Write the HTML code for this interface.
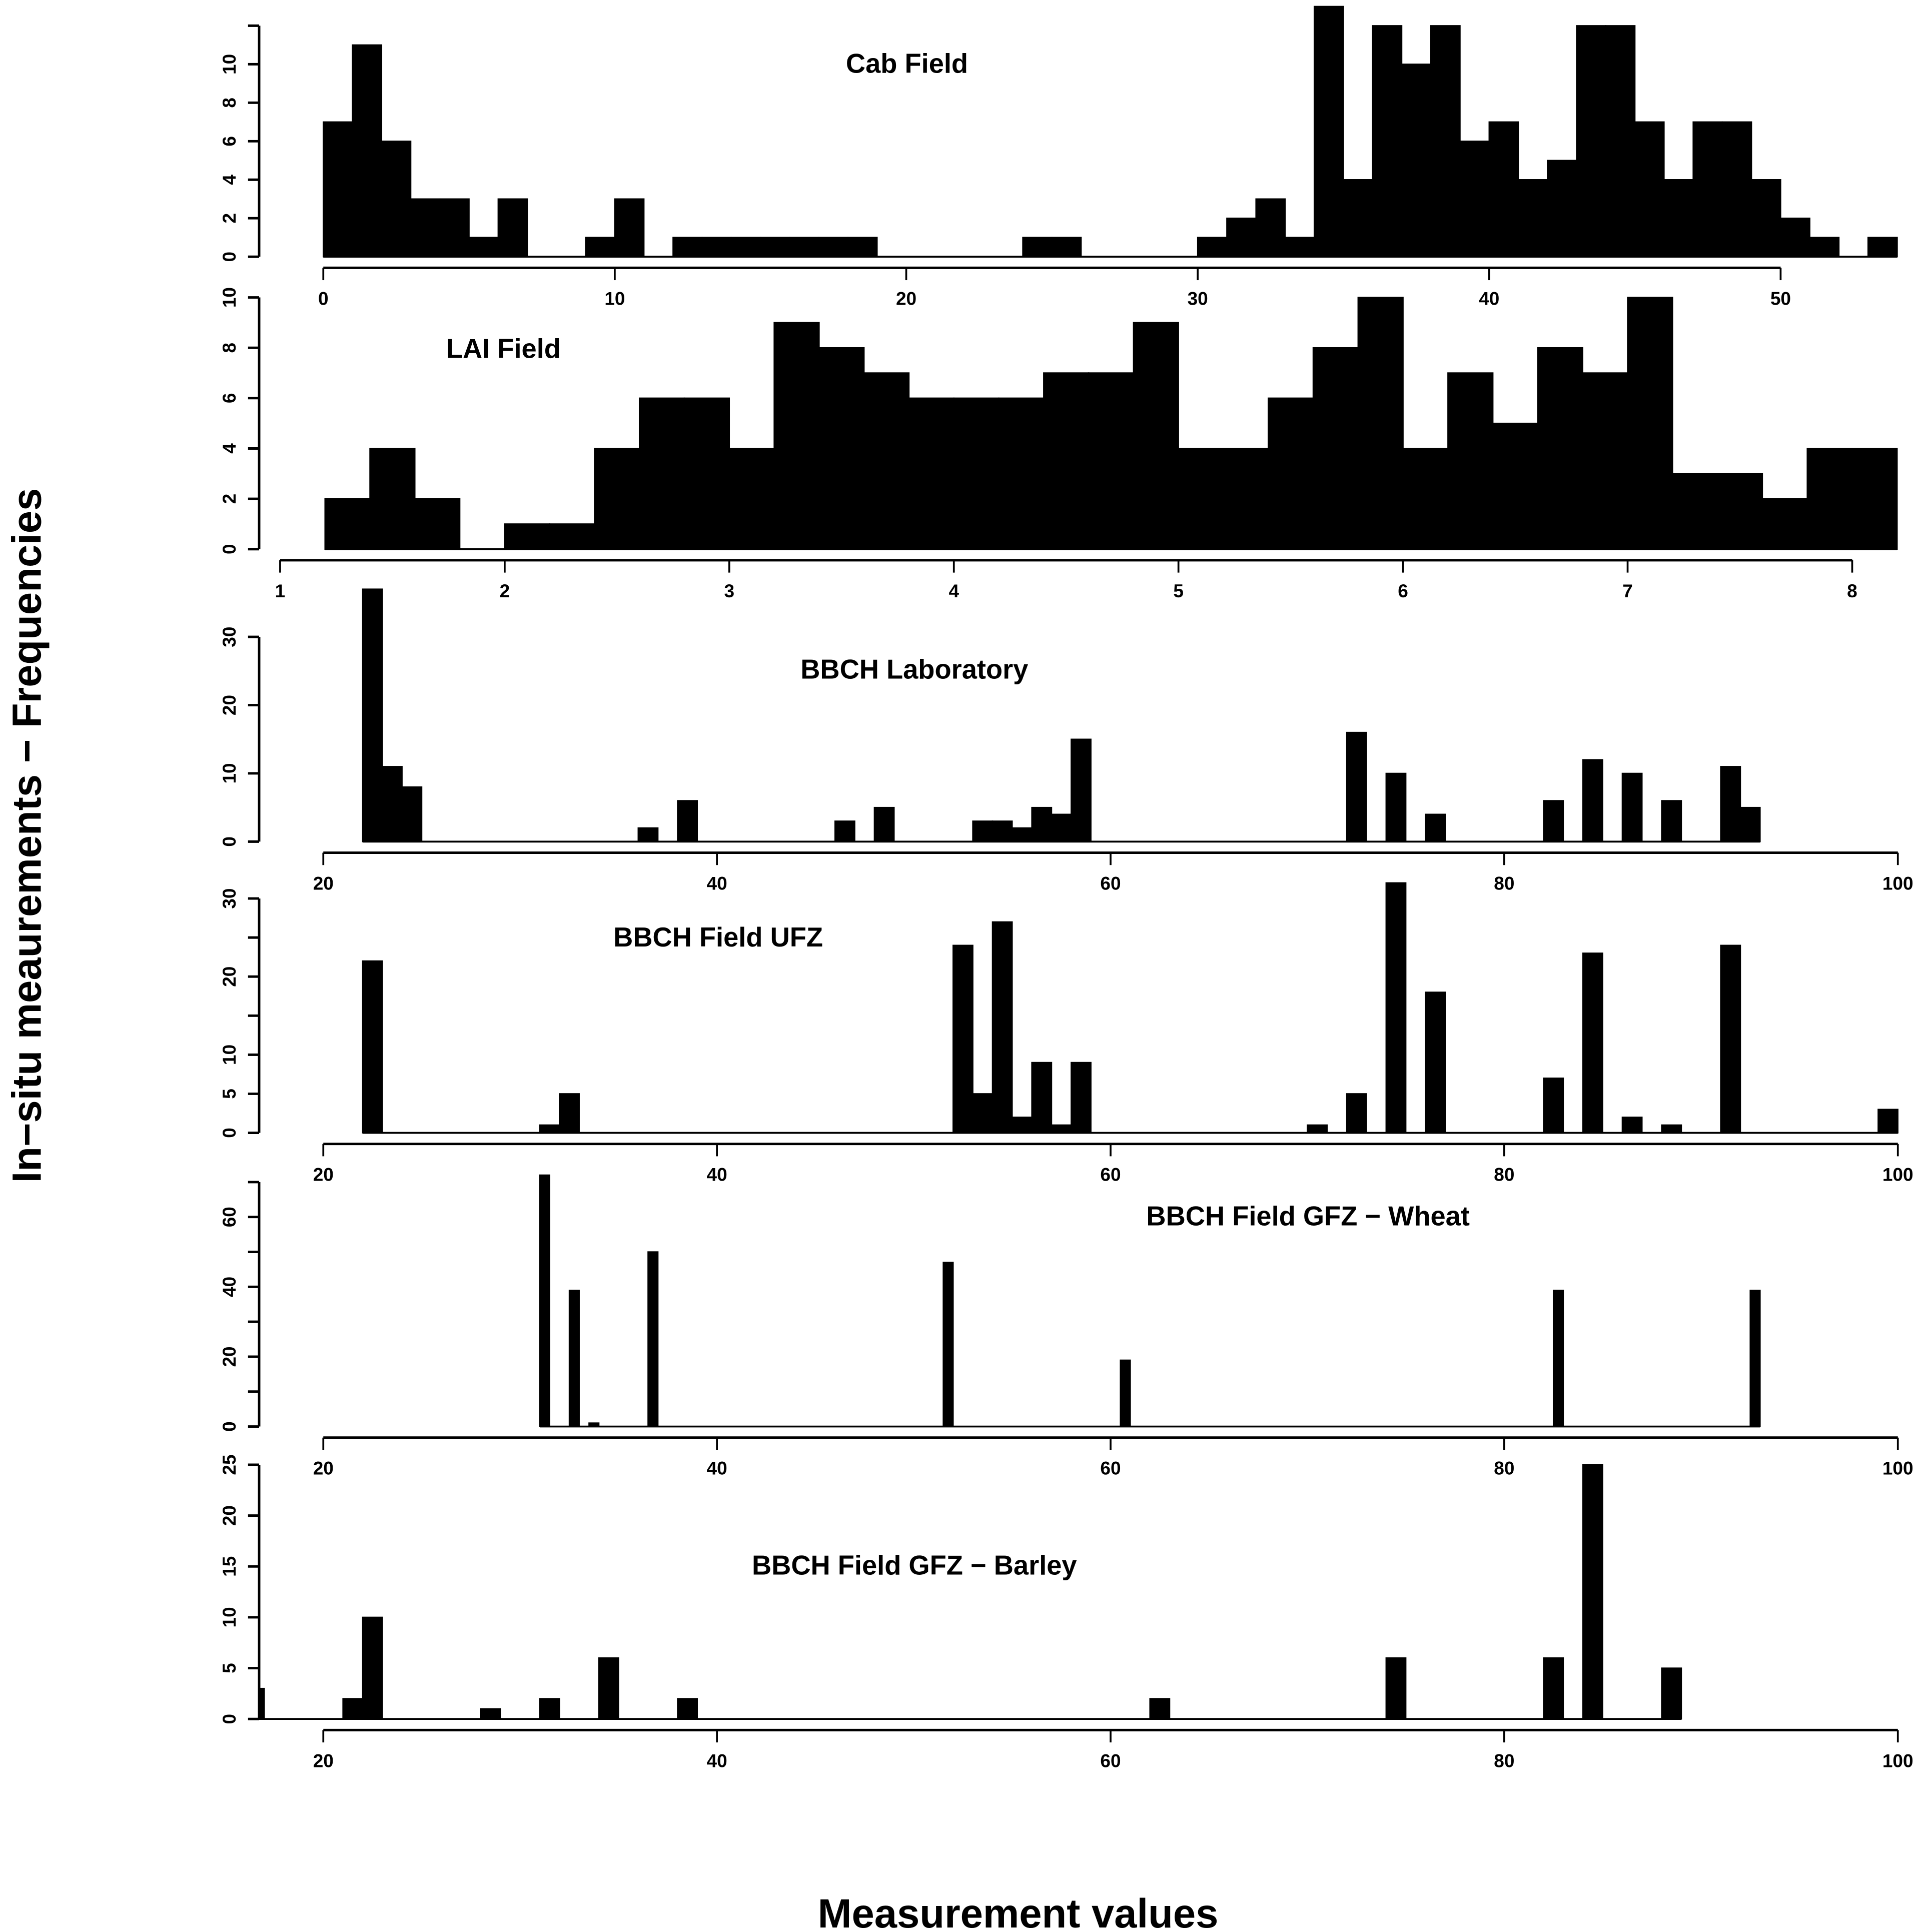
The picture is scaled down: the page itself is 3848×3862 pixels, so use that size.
<!DOCTYPE html>
<html><head><meta charset="utf-8"><style>
html,body{margin:0;padding:0;background:#fff;}
svg{display:block;}
text{font-family:"Liberation Sans",Arial,sans-serif;font-weight:bold;fill:#000;}
</style></head><body>
<svg id="chart" xmlns="http://www.w3.org/2000/svg" width="3848" height="3862" viewBox="0 0 1560 1565.6">
<rect x="0" y="0" width="1560" height="1565.6" fill="#fff"/>
<text x="33" y="677" font-size="33" text-anchor="middle" transform="rotate(-90 33 677)">In−situ meaurements − Frequencies</text>
<text x="825" y="1562" font-size="33" text-anchor="middle">Measurement values</text>
</svg>
<script>
// ---- data arrays ----
const cabStarts = [0,1,2,3,4,5,6,7,8,9,10,11,12,13,14,15,16,17,18,19,20,21,22,23,24,25,26,27,28,29,30,31,32,33,34,35,36,37,38,39,40,41,42,43,44,45,46,47,48,49,50,51,52,53];
const cabCounts = [7,11,6,3,3,1,3,0,0,1,3,0,1,1,1,1,1,1,1,0,0,0,0,0,1,1,0,0,0,0,1,2,3,1,13,4,12,10,12,6,7,4,5,12,12,7,4,7,7,4,2,1,0,1];
const laiStarts = [1.2,1.4,1.6,1.8,2.0,2.2,2.4,2.6,2.8,3.0,3.2,3.4,3.6,3.8,4.0,4.2,4.4,4.6,4.8,5.0,5.2,5.4,5.6,5.8,6.0,6.2,6.4,6.6,6.8,7.0,7.2,7.4,7.6,7.8,8.0];
const laiCounts = [2,4,2,0,1,1,4,6,6,4,9,8,7,6,6,6,7,7,9,4,4,6,8,10,4,7,5,8,7,10,3,3,2,4,4];
const labStarts = [22,23,24,36,38,46,48,53,54,55,56,57,58,72,74,76,82,84,86,88,91,92];
const labCounts = [37,11,8,2,6,3,5,3,3,2,5,4,15,16,10,4,6,12,10,6,11,5];
const ufzStarts = [22,31,32,52,53,54,55,56,57,58,70,72,74,76,82,84,86,88,91,99];
const ufzCounts = [22,1,5,24,5,27,2,9,1,9,1,5,32,18,7,23,2,1,24,3];
const wheatStarts = [31,32.5,33.5,36.5,51.5,60.5,82.5,92.5];
const wheatCounts = [72,39,1,50,47,19,39,39];
const barleyStarts = [16,21,22,28,31,34,38,62,74,82,84,88];
const barleyCounts = [3,2,10,1,2,6,2,2,6,6,25,5];
const cabXTicks = [0,10,20,30,40,50];
const laiXTicks = [1,2,3,4,5,6,7,8];
const bbchXTicks = [20,40,60,80,100];
const cabYTicks = [0,2,4,6,8,10,12];
const cabYLabels = ["0","2","4","6","8","10",""];
const laiYTicks = [0,2,4,6,8,10];
const laiYLabels = ["0","2","4","6","8","10"];
const labYTicks = [0,10,20,30];
const labYLabels = ["0","10","20","30"];
const ufzYTicks = [0,5,10,15,20,25,30];
const ufzYLabels = ["0","5","10","","20","","30"];
const wheatYTicks = [0,10,20,30,40,50,60,70];
const wheatYLabels = ["0","","20","","40","","60",""];
const barleyYTicks = [0,5,10,15,20,25];
const barleyYLabels = ["0","5","10","15","20","25"];

const NS = "http://www.w3.org/2000/svg";
const svg = document.getElementById('chart');
function mk(tag, attrs, parent){
  const e = document.createElementNS(NS, tag);
  for (const k in attrs) e.setAttribute(k, attrs[k]);
  (parent||svg).appendChild(e);
  return e;
}
let clipId = 0;
function panel(p){
  const g = mk('g', {});
  
  
  const X = v => p.px0 + (v - p.v0) * p.kx;
  const Y = c => p.base - c * p.ky;
  clipId++;
  const cp = mk('clipPath', {id:'c'+clipId}, g);
  mk('rect', {x:210, y:0, width:1330, height:1565}, cp);
  const bars = mk('g', {'clip-path':'url(#c'+clipId+')'}, g);
  const lastStart = p.starts[p.starts.length-1];
  const bl = mk('line', {x1:X(p.starts[0]), x2:X(lastStart + p.bw), y1:p.base, y2:p.base, stroke:'#000','stroke-width':1.5}, bars);
  
  
  p.starts.forEach((s, i) => {
    const c = p.counts[i];
    if (c <= 0) return;
    const r = mk('rect', {x:X(s), y:Y(c), width:X(s+p.bw)-X(s), height:Y(0)-Y(c), fill:'#000', stroke:'#000','stroke-width':1}, bars);
    
    
  });
  const yt = p.yTicks;
  const ya = mk('line', {x1:210, x2:210, y1:Y(yt[0]), y2:Y(yt[yt.length-1]), stroke:'#000','stroke-width':2}, g);
  
  
  yt.forEach((t, i) => {
    mk('line', {x1:201, x2:210, y1:Y(t), y2:Y(t), stroke:'#000','stroke-width':2}, g);
    if (p.yLabels[i]) {
      const tx = mk('text', {x:191, y:Y(t), 'font-size':15, 'text-anchor':'middle', transform:'rotate(-90 191 '+Y(t)+')'}, g);
      tx.textContent = p.yLabels[i];
      
      
    }
  });
  const xt = p.xTicks;
  const ay = p.base + 9;
  const xa = mk('line', {x1:X(xt[0]), x2:X(xt[xt.length-1]), y1:ay, y2:ay, stroke:'#000','stroke-width':2}, g);
  
  
  xt.forEach(t => {
    mk('line', {x1:X(t), x2:X(t), y1:ay, y2:ay+10, stroke:'#000','stroke-width':1.5}, g);
    const tx = mk('text', {x:X(t), y:ay+30, 'font-size':15, 'text-anchor':'middle'}, g);
    tx.textContent = String(t);
    
    
  });
  const tt = mk('text', {x:p.tx, y:p.ty, 'font-size':22, 'text-anchor':'middle'}, g);
  tt.textContent = p.title;
  
  
}
panel({name:'cab-field', starts:cabStarts, counts:cabCounts, bw:1, v0:0, px0:262, kx:23.62, base:208, ky:15.6, yTicks:cabYTicks, yLabels:cabYLabels, xTicks:cabXTicks, title:'Cab Field', tx:735, ty:59});
panel({name:'lai-field', starts:laiStarts, counts:laiCounts, bw:0.2, v0:1, px0:227, kx:182, base:445, ky:20.4, yTicks:laiYTicks, yLabels:laiYLabels, xTicks:laiXTicks, title:'LAI Field', tx:408, ty:290});
panel({name:'bbch-laboratory', starts:labStarts, counts:labCounts, bw:1, v0:20, px0:262, kx:15.95, base:682, ky:5.53, yTicks:labYTicks, yLabels:labYLabels, xTicks:bbchXTicks, title:'BBCH Laboratory', tx:741, ty:550});
panel({name:'bbch-field-ufz', starts:ufzStarts, counts:ufzCounts, bw:1, v0:20, px0:262, kx:15.95, base:918, ky:6.33, yTicks:ufzYTicks, yLabels:ufzYLabels, xTicks:bbchXTicks, title:'BBCH Field UFZ', tx:582, ty:767});
panel({name:'bbch-field-gfz-wheat', starts:wheatStarts, counts:wheatCounts, bw:0.5, v0:20, px0:262, kx:15.95, base:1156, ky:2.83, yTicks:wheatYTicks, yLabels:wheatYLabels, xTicks:bbchXTicks, title:'BBCH Field GFZ − Wheat', tx:1060, ty:993});
panel({name:'bbch-field-gfz-barley', starts:barleyStarts, counts:barleyCounts, bw:1, v0:20, px0:262, kx:15.95, base:1393, ky:8.24, yTicks:barleyYTicks, yLabels:barleyYLabels, xTicks:bbchXTicks, title:'BBCH Field GFZ − Barley', tx:741, ty:1276});
</script>
</body></html>
